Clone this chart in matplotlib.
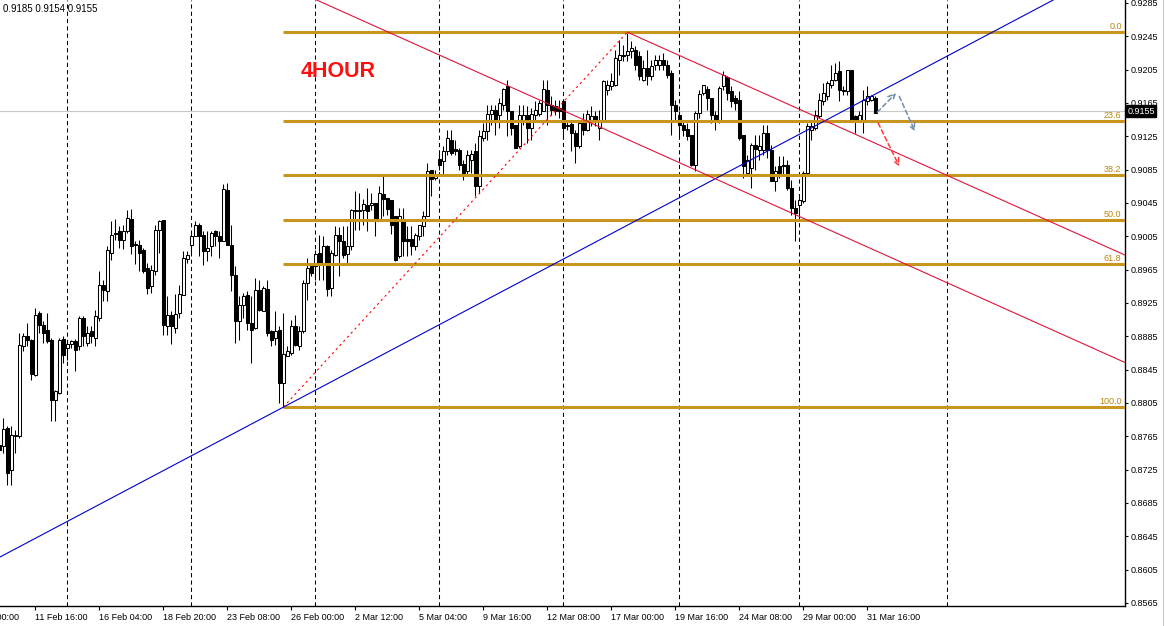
import numpy as np
import matplotlib
matplotlib.use('Agg')
import matplotlib.pyplot as plt
import matplotlib.transforms as mtransforms
from matplotlib.lines import Line2D

plt.rcParams['font.family'] = ['Liberation Sans', 'DejaVu Sans']

# 4 hour candles, first one is bar -1 (partly off the left edge)
first_bar = -1
opens = [
    0.8754, 0.8753, 0.8775, 0.8725, 0.8765, 0.8765, 0.8873, 0.8885, 0.8880, 0.8839,
    0.8913, 0.8899, 0.8892, 0.8881, 0.8809, 0.8817, 0.8882, 0.8871, 0.8876, 0.8879,
    0.8873, 0.8907, 0.8877, 0.8891, 0.8883, 0.8907, 0.8946, 0.8939, 0.8985, 0.9009,
    0.9011, 0.9001, 0.9011, 0.9026, 0.8996, 0.8994, 0.8988, 0.8967, 0.8945, 0.8964,
    0.9012, 0.9024, 0.8897, 0.8911, 0.8895, 0.8913, 0.8935, 0.8978, 0.8995, 0.9006,
    0.9018, 0.9006, 0.8987, 0.8994, 0.9011, 0.9005, 0.8999, 0.9061, 0.8995, 0.8958,
    0.8904, 0.8922, 0.8934, 0.8901, 0.8895, 0.8941, 0.8916, 0.8942, 0.8891, 0.8883,
    0.8893, 0.8829, 0.8862, 0.8865, 0.8897, 0.8873, 0.8891, 0.8949, 0.8969, 0.8969,
    0.8985, 0.8973, 0.8993, 0.8943, 0.8983, 0.9006, 0.8999, 0.8984, 0.8993, 0.9036,
    0.9035, 0.9037, 0.9042, 0.9042, 0.9045, 0.9024, 0.9056, 0.9051, 0.9048, 0.9029,
    0.8981, 0.9023, 0.9002, 0.9002, 0.8993, 0.9005, 0.9017, 0.9029, 0.9084, 0.9075,
    0.9098, 0.9095, 0.9107, 0.9121, 0.9110, 0.9109, 0.9092, 0.9083, 0.9097, 0.9107,
    0.9065, 0.9123, 0.9131, 0.9152, 0.9157, 0.9151, 0.9163, 0.9185, 0.9155, 0.9138,
    0.9113, 0.9145, 0.9151, 0.9135, 0.9151, 0.9152, 0.9156, 0.9181, 0.9162, 0.9161,
    0.9159, 0.9167, 0.9137, 0.9140, 0.9129, 0.9114, 0.9141, 0.9133, 0.9143, 0.9149,
    0.9135, 0.9145, 0.9180, 0.9186, 0.9187, 0.9217, 0.9223, 0.9223, 0.9228, 0.9229,
    0.9221, 0.9193, 0.9207, 0.9198, 0.9210, 0.9211, 0.9217, 0.9211, 0.9201, 0.9163,
    0.9151, 0.9138, 0.9134, 0.9127, 0.9090, 0.9153, 0.9177, 0.9182, 0.9171, 0.9151,
    0.9143, 0.9185, 0.9196, 0.9179, 0.9171, 0.9169, 0.9126, 0.9081, 0.9087, 0.9115,
    0.9109, 0.9109, 0.9129, 0.9109, 0.9071, 0.9089, 0.9089, 0.9090, 0.9063, 0.9039,
    0.9042, 0.9047, 0.9081, 0.9133, 0.9135, 0.9149, 0.9167, 0.9173, 0.9187, 0.9193,
    0.9203, 0.9181, 0.9179, 0.9204, 0.9149, 0.9145, 0.9145, 0.9167, 0.9169, 0.9171,
]
highs = [
    0.8761, 0.8787, 0.8777, 0.8777, 0.8773, 0.8889, 0.8889, 0.8901, 0.8882, 0.8919,
    0.8915, 0.8903, 0.8913, 0.8883, 0.8821, 0.8883, 0.8885, 0.8881, 0.8881, 0.8882,
    0.8909, 0.8909, 0.8897, 0.8897, 0.8917, 0.8963, 0.8953, 0.8993, 0.9023, 0.9026,
    0.9017, 0.9019, 0.9037, 0.9038, 0.8999, 0.9000, 0.8991, 0.8973, 0.8971, 0.9018,
    0.9025, 0.9025, 0.8933, 0.8915, 0.8936, 0.8947, 0.8987, 0.8987, 0.9008, 0.9023,
    0.9021, 0.9011, 0.9011, 0.9011, 0.9012, 0.9011, 0.9068, 0.9069, 0.9019, 0.8969,
    0.8933, 0.8937, 0.8939, 0.8933, 0.8955, 0.8953, 0.8945, 0.8953, 0.8893, 0.8915,
    0.8897, 0.8913, 0.8873, 0.8905, 0.8911, 0.8897, 0.8953, 0.8979, 0.8973, 0.8989,
    0.9007, 0.9005, 0.8995, 0.8989, 0.9017, 0.9016, 0.9017, 0.9017, 0.9038, 0.9059,
    0.9057, 0.9050, 0.9063, 0.9057, 0.9045, 0.9066, 0.9079, 0.9051, 0.9048, 0.9029,
    0.9039, 0.9039, 0.9017, 0.9017, 0.9009, 0.9019, 0.9036, 0.9093, 0.9085, 0.9085,
    0.9105, 0.9113, 0.9133, 0.9133, 0.9121, 0.9111, 0.9097, 0.9109, 0.9109, 0.9117,
    0.9133, 0.9141, 0.9162, 0.9162, 0.9162, 0.9171, 0.9183, 0.9193, 0.9155, 0.9138,
    0.9163, 0.9163, 0.9161, 0.9159, 0.9167, 0.9169, 0.9193, 0.9193, 0.9173, 0.9169,
    0.9169, 0.9169, 0.9145, 0.9143, 0.9133, 0.9145, 0.9153, 0.9157, 0.9161, 0.9155,
    0.9157, 0.9193, 0.9193, 0.9201, 0.9229, 0.9241, 0.9235, 0.9251, 0.9239, 0.9233,
    0.9227, 0.9217, 0.9229, 0.9217, 0.9223, 0.9223, 0.9225, 0.9217, 0.9205, 0.9169,
    0.9155, 0.9143, 0.9141, 0.9127, 0.9155, 0.9181, 0.9187, 0.9185, 0.9171, 0.9155,
    0.9185, 0.9203, 0.9197, 0.9185, 0.9175, 0.9179, 0.9127, 0.9103, 0.9117, 0.9127,
    0.9127, 0.9139, 0.9139, 0.9115, 0.9089, 0.9101, 0.9101, 0.9097, 0.9073, 0.9049,
    0.9053, 0.9083, 0.9141, 0.9143, 0.9157, 0.9177, 0.9189, 0.9191, 0.9211, 0.9213,
    0.9215, 0.9185, 0.9205, 0.9205, 0.9151, 0.9155, 0.9181, 0.9185, 0.9175, 0.9173,
]
lows = [
    0.8737, 0.8745, 0.8707, 0.8707, 0.8745, 0.8763, 0.8867, 0.8873, 0.8833, 0.8837,
    0.8889, 0.8877, 0.8877, 0.8784, 0.8783, 0.8816, 0.8853, 0.8857, 0.8871, 0.8844,
    0.8869, 0.8873, 0.8873, 0.8877, 0.8874, 0.8903, 0.8927, 0.8927, 0.8977, 0.9001,
    0.8991, 0.8990, 0.9009, 0.8984, 0.8972, 0.8963, 0.8961, 0.8936, 0.8937, 0.8958,
    0.8985, 0.8887, 0.8887, 0.8876, 0.8889, 0.8907, 0.8935, 0.8973, 0.8985, 0.9006,
    0.8981, 0.8971, 0.8975, 0.8981, 0.8993, 0.8979, 0.8999, 0.8995, 0.8939, 0.8877,
    0.8881, 0.8907, 0.8893, 0.8853, 0.8894, 0.8915, 0.8915, 0.8886, 0.8874, 0.8875,
    0.8805, 0.8800, 0.8861, 0.8863, 0.8873, 0.8868, 0.8889, 0.8929, 0.8957, 0.8953,
    0.8953, 0.8953, 0.8933, 0.8933, 0.8981, 0.8957, 0.8979, 0.8973, 0.8989, 0.9013,
    0.9013, 0.9019, 0.9011, 0.9037, 0.9006, 0.9024, 0.9029, 0.9031, 0.9008, 0.8976,
    0.8979, 0.8981, 0.8981, 0.8982, 0.8989, 0.9001, 0.9005, 0.9029, 0.9054, 0.9073,
    0.9085, 0.9077, 0.9103, 0.9103, 0.9102, 0.9085, 0.9073, 0.9077, 0.9081, 0.9053,
    0.9057, 0.9119, 0.9121, 0.9139, 0.9127, 0.9135, 0.9157, 0.9125, 0.9127, 0.9111,
    0.9111, 0.9139, 0.9117, 0.9121, 0.9145, 0.9149, 0.9155, 0.9139, 0.9151, 0.9151,
    0.9147, 0.9123, 0.9133, 0.9107, 0.9093, 0.9111, 0.9127, 0.9131, 0.9137, 0.9137,
    0.9121, 0.9143, 0.9175, 0.9181, 0.9185, 0.9199, 0.9215, 0.9215, 0.9219, 0.9205,
    0.9193, 0.9191, 0.9187, 0.9193, 0.9205, 0.9205, 0.9205, 0.9195, 0.9127, 0.9145,
    0.9125, 0.9125, 0.9121, 0.9089, 0.9083, 0.9147, 0.9174, 0.9157, 0.9141, 0.9133,
    0.9141, 0.9181, 0.9169, 0.9160, 0.9157, 0.9121, 0.9075, 0.9079, 0.9063, 0.9085,
    0.9097, 0.9103, 0.9099, 0.9071, 0.9059, 0.9075, 0.9079, 0.9061, 0.9031, 0.8999,
    0.9029, 0.9045, 0.9079, 0.9121, 0.9133, 0.9147, 0.9163, 0.9169, 0.9183, 0.9191,
    0.9167, 0.9175, 0.9175, 0.9145, 0.9129, 0.9143, 0.9129, 0.9163, 0.9167, 0.9153,
]
closes = [
    0.8749, 0.8774, 0.8721, 0.8767, 0.8767, 0.8875, 0.8885, 0.8880, 0.8840, 0.8911,
    0.8899, 0.8889, 0.8879, 0.8809, 0.8819, 0.8881, 0.8863, 0.8876, 0.8879, 0.8868,
    0.8907, 0.8885, 0.8889, 0.8885, 0.8909, 0.8947, 0.8940, 0.8988, 0.9007, 0.9008,
    0.9001, 0.9011, 0.9027, 0.8994, 0.8995, 0.8985, 0.8964, 0.8943, 0.8964, 0.9012,
    0.9023, 0.8899, 0.8910, 0.8897, 0.8912, 0.8936, 0.8979, 0.8983, 0.9005, 0.9018,
    0.9006, 0.8987, 0.8991, 0.9009, 0.9006, 0.8999, 0.9062, 0.8995, 0.8958, 0.8903,
    0.8922, 0.8933, 0.8901, 0.8892, 0.8940, 0.8917, 0.8943, 0.8889, 0.8881, 0.8891,
    0.8829, 0.8864, 0.8867, 0.8897, 0.8875, 0.8891, 0.8949, 0.8967, 0.8961, 0.8984,
    0.8973, 0.8993, 0.8942, 0.8985, 0.9006, 0.8999, 0.8982, 0.8993, 0.9036, 0.9037,
    0.9037, 0.9044, 0.9035, 0.9045, 0.9024, 0.9057, 0.9050, 0.9038, 0.9018, 0.8977,
    0.9029, 0.8999, 0.8999, 0.8993, 0.9006, 0.9018, 0.9029, 0.9083, 0.9074, 0.9080,
    0.9091, 0.9107, 0.9123, 0.9105, 0.9107, 0.9090, 0.9081, 0.9102, 0.9104, 0.9065,
    0.9125, 0.9131, 0.9152, 0.9157, 0.9145, 0.9165, 0.9182, 0.9155, 0.9135, 0.9111,
    0.9151, 0.9151, 0.9135, 0.9152, 0.9157, 0.9165, 0.9182, 0.9162, 0.9157, 0.9156,
    0.9155, 0.9135, 0.9139, 0.9129, 0.9113, 0.9141, 0.9133, 0.9152, 0.9149, 0.9143,
    0.9145, 0.9191, 0.9187, 0.9191, 0.9219, 0.9223, 0.9221, 0.9227, 0.9231, 0.9211,
    0.9197, 0.9207, 0.9198, 0.9209, 0.9216, 0.9217, 0.9210, 0.9199, 0.9163, 0.9156,
    0.9139, 0.9133, 0.9125, 0.9090, 0.9153, 0.9176, 0.9186, 0.9171, 0.9150, 0.9143,
    0.9183, 0.9198, 0.9177, 0.9167, 0.9165, 0.9123, 0.9089, 0.9097, 0.9115, 0.9110,
    0.9113, 0.9129, 0.9109, 0.9071, 0.9083, 0.9081, 0.9091, 0.9063, 0.9039, 0.9033,
    0.9048, 0.9081, 0.9137, 0.9137, 0.9151, 0.9169, 0.9177, 0.9189, 0.9193, 0.9201,
    0.9181, 0.9179, 0.9204, 0.9145, 0.9145, 0.9150, 0.9169, 0.9173, 0.9173, 0.9153,
]

# x axis labels every 16 bars (the first one sits left of the chart, cut off)
tick_bars = [-8, 8, 24, 40, 56, 72, 88, 104, 120, 136, 152, 168, 184, 200, 216]
tick_labels = ["9 Feb 00:00", "11 Feb 16:00", "16 Feb 04:00", "18 Feb 20:00",
               "23 Feb 08:00", "26 Feb 00:00", "2 Mar 12:00", "5 Mar 04:00",
               "9 Mar 16:00", "12 Mar 08:00", "17 Mar 00:00", "19 Mar 16:00",
               "24 Mar 08:00", "29 Mar 00:00", "31 Mar 16:00"]
grid_bars = [16, 47, 78, 109, 140, 169, 199, 236]
price_ticks = np.arange(0.8565, 0.92851, 0.004)

# fibonacci from swing low to swing high
fib_low = (70, 0.8800)
fib_high = (156, 0.9250)
fib_ratios = [0.0, 23.6, 38.2, 50.0, 61.8, 100.0]

# trend lines: (bar, price) pairs
blue_line = [(70, 0.8800), (200, 0.9130)]
red_upper = [(156, 0.9250), (218, 0.91167)]
red_lower = [(80, 0.9285), (198, 0.9031)]

# forecast arrows: (start bar, start price, end bar, end price)
arrows_gray = [(218.5, 0.9154, 223.2, 0.9177), (224.0, 0.9173, 227.9, 0.9131)]
arrow_red = (218.7, 0.9141, 224.0, 0.9089)

bid = 0.9155
header = [0.9185, 0.9154, 0.9155]

XMIN, XMAX = -0.833, 280.42
YMIN, YMAX = 0.85614, 0.92886

fig = plt.figure(figsize=(11.66, 6.26), dpi=100)
ax = fig.add_axes([0.0, 20 / 626, 1125 / 1166, 606 / 626])

o = np.array(opens)
h = np.array(highs)
l = np.array(lows)
c = np.array(closes)
x = np.arange(len(o)) + first_bar

# grid and bid line
for gb in grid_bars:
    ax.axvline(gb, color='black', lw=0.75, linestyle=(0, (4, 3)), zorder=1)
ax.axhline(bid, color='#c8c8c8', lw=0.8, zorder=1)

# candles
ax.vlines(x, l, h, color='black', lw=0.75, zorder=3)
bull = c >= o
body = np.maximum(np.abs(c - o), 0.00004)
bottom = np.minimum(o, c)
ax.bar(x[bull], body[bull], bottom=bottom[bull], width=0.6,
       facecolor='white', edgecolor='black', lw=0.75, zorder=4)
ax.bar(x[~bull], body[~bull], bottom=bottom[~bull], width=0.6,
       facecolor='black', edgecolor='black', lw=0.75, zorder=4)

# fibonacci levels
fib_color = '#c8961e'
span = fib_high[1] - fib_low[1]
ytrans = mtransforms.blended_transform_factory(ax.transAxes, ax.transData)
for r in fib_ratios:
    lvl = fib_high[1] - span * r / 100
    ax.hlines(lvl, fib_low[0], XMAX, color=fib_color, lw=2.2, zorder=5)
    ax.text(0.997, lvl + 0.00012, f"{r:.1f}", color='#b8860b', fontsize=6.5,
            ha='right', va='bottom', transform=ytrans)
ax.plot([fib_low[0], fib_high[0]], [fib_low[1], fib_high[1]], color='red',
        lw=0.8, linestyle=(0, (2, 3)), zorder=6)

# trend lines
ax.axline(blue_line[0], blue_line[1], color='#0000cd', lw=0.8, zorder=6)
slope = (red_upper[1][1] - red_upper[0][1]) / (red_upper[1][0] - red_upper[0][0])
ax.plot([red_upper[0][0], XMAX],
        [red_upper[0][1], red_upper[0][1] + slope * (XMAX - red_upper[0][0])],
        color='#e0143c', lw=0.8, zorder=6)
ax.axline(red_lower[0], red_lower[1], color='#e0143c', lw=0.8, zorder=6)

# arrows
for x0, y0, x1, y1 in arrows_gray:
    ax.annotate('', xy=(x1, y1), xytext=(x0, y0),
                arrowprops=dict(arrowstyle='->', color='#6f8cab', lw=1.1,
                                linestyle=(0, (3, 2)), mutation_scale=12,
                                shrinkA=0, shrinkB=0), zorder=7)
ax.annotate('', xy=arrow_red[2:], xytext=arrow_red[:2],
            arrowprops=dict(arrowstyle='->', color='#ff3838', lw=1.1,
                            linestyle=(0, (3, 2)), mutation_scale=12,
                            shrinkA=0, shrinkB=0), zorder=7)

ax.text(74.2, 0.9203, "4HOUR", color='#ff1010', fontsize=15.5,
        fontweight='bold', ha='left', va='center', zorder=8)

# axes styling
for side in ['left', 'top']:
    ax.spines[side].set_visible(False)
for side in ['right', 'bottom']:
    ax.spines[side].set_color('black')
    ax.spines[side].set_linewidth(1.0)
ax.yaxis.tick_right()
ax.set_yticks(price_ticks)
ax.set_yticklabels([f"{v:.4f}" for v in price_ticks])
ax.tick_params(axis='y', direction='out', length=2.5, width=0.8, pad=1.5,
               labelsize=6.5)
ax.set_xticks(tick_bars[1:])
ax.set_xticklabels(tick_labels[1:])
ax.tick_params(axis='x', direction='out', length=3, width=0.8, pad=2,
               labelsize=6.5)
plt.setp(ax.get_xticklabels(), ha='left')
# label whose tick is off the left edge, only its tail shows
ax.annotate(tick_labels[0], xy=(tick_bars[0], 0),
            xycoords=('data', 'axes fraction'), xytext=(0, -5),
            textcoords='offset points', ha='left', va='top', fontsize=6.5,
            annotation_clip=False)

# limits last, set_xticks would widen them otherwise
ax.set_xlim(XMIN, XMAX)
ax.set_ylim(YMIN, YMAX)

ax.text(1.002, bid, f"{bid:.4f}", color='white', fontsize=6.5, ha='left',
        va='center', zorder=9, clip_on=False,
        bbox=dict(facecolor='black', edgecolor='black', pad=1.2),
        transform=ytrans)

fig.text(0.003, 0.994, " ".join(f"{v:.4f}" for v in header), fontsize=7,
         ha='left', va='top', color='black')
fig.add_artist(Line2D([0.9975, 0.9975], [0, 1], transform=fig.transFigure,
                      color='#b0cdf0', lw=0.8))

fig.savefig('out.png', dpi=100)
